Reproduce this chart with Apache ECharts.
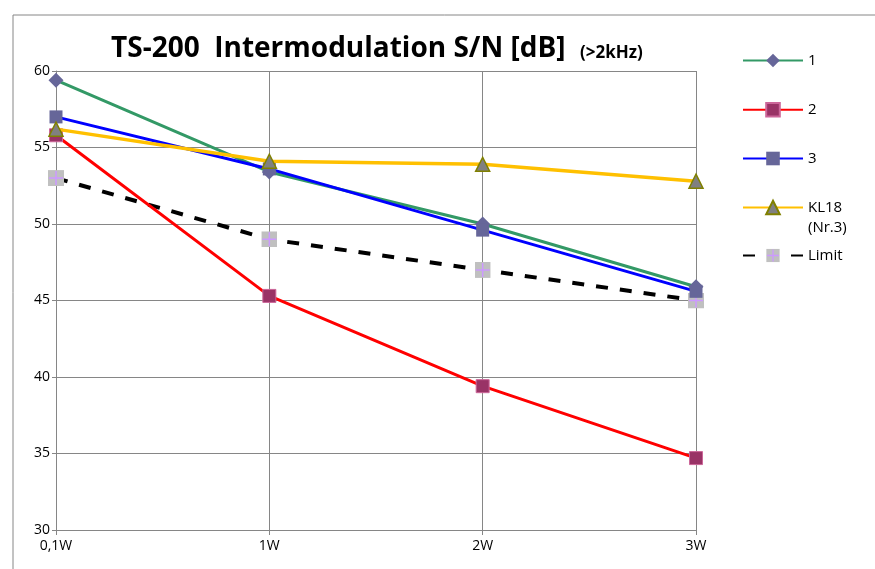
<!DOCTYPE html>
<html><head><meta charset="utf-8">
<script src="https://cdn.jsdelivr.net/npm/echarts@6/dist/echarts.min.js"></script>
<style>html,body{margin:0;padding:0;background:#fff}#c{width:875px;height:569px}</style>
</head><body><div id="c"></div>
<script>
const categories = ['0,1W', '1W', '2W', '3W'];
const s1 = [59.4, 53.4, 50.0, 45.9];
const s2 = [55.8, 45.3, 39.4, 34.7];
const s3 = [57.0, 53.6, 49.6, 45.6];
const kl18 = [56.2, 54.1, 53.9, 52.8];
const limit = [53.0, 49.0, 47.0, 45.0];
const yTicks = [30, 35, 40, 45, 50, 55, 60];

const FONT = '"Open Sans", "Liberation Sans", sans-serif';
const limitSvg = 'image://data:image/svg+xml;utf8,' + encodeURIComponent(
  '<svg xmlns="http://www.w3.org/2000/svg" width="16" height="16"><rect x="0" y="0" width="16" height="16" fill="#c0c0c0"/><path d="M8 1V15M1 8H15" stroke="#cc99ff" stroke-width="1.5"/></svg>');

const chart = echarts.init(document.getElementById('c'));
const names = ['1','2','3','KL18','Limit'];
const legendTops = [53, 102, 151, 180, 248];
chart.setOption({
  animation: false,
  textStyle: {fontFamily: FONT},
  title: {
    text: 'TS-200  Intermodulation S/N [dB]  {s|(>2kHz)}',
    left: 106, top: 30,
    textStyle: {fontFamily: FONT, fontWeight: 'bold', fontSize: 28, color: '#000',
      rich: {s: {fontFamily: FONT, fontWeight: 'bold', fontSize: 17, color: '#000', padding:[8,0,0,0]}}}
  },
  graphic: [{type: 'rect', shape: {x: 13, y: 15, width: 900, height: 600}, style: {fill: 'none', stroke: '#868686', lineWidth: 1}, silent: true}],
  legend: names.map((n, i) => ({
    data: [n], orient: 'vertical', left: 742, top: legendTops[i],
    itemWidth: 60, itemHeight: 17, itemGap: 0,
    formatter: n === 'KL18' ? '{e| }\n{a|KL18}\n{a|(Nr.3)}' : '{a|' + n + '}',
    textStyle: {fontFamily: FONT, fontSize: 15, color: '#000',
      rich: {a: {fontFamily: FONT, fontSize: 15, color: '#000', lineHeight: 20}, e: {fontSize: 15, lineHeight: 20}}},
    padding: 0
  })),
  grid: {left: 56, right: 179, top: 71, bottom: 39, containLabel: false},
  xAxis: {
    type: 'category', data: categories, boundaryGap: false,
    axisLine: {lineStyle: {color: '#868686', width: 1}},
    axisTick: {show: true, length: 5, lineStyle: {color: '#868686'}},
    axisLabel: {fontFamily: FONT, fontSize: 14, color: '#000', margin: 9},
    splitLine: {show: true, lineStyle: {color: '#868686', width: 1}}
  },
  yAxis: {
    type: 'value', min: yTicks[0], max: yTicks[yTicks.length-1], interval: 5,
    axisLine: {show: true, lineStyle: {color: '#868686'}},
    axisTick: {show: true, length: 4, lineStyle: {color: '#868686'}},
    axisLabel: {fontFamily: FONT, fontSize: 14, color: '#000', margin: 6},
    splitLine: {show: true, lineStyle: {color: '#868686', width: 1}}
  },
  series: [
    {name: '1', type: 'line', data: s1, symbol: 'diamond', symbolSize: 15,
     lineStyle: {color: '#339966', width: 3}, itemStyle: {color: '#666699', borderWidth: 0}, z: 3},
    {name: '2', type: 'line', data: s2, symbol: 'rect', symbolSize: 13,
     lineStyle: {color: '#ff0000', width: 3}, itemStyle: {color: '#993366', borderColor: '#cc6699', borderWidth: 1}, z: 3},
    {name: '3', type: 'line', data: s3, symbol: 'rect', symbolSize: 13,
     lineStyle: {color: '#0000ff', width: 3}, itemStyle: {color: '#666699', borderWidth: 0}, z: 3},
    {name: 'KL18', type: 'line', data: kl18, symbol: 'triangle', symbolSize: 14,
     lineStyle: {color: '#ffc000', width: 3.5}, itemStyle: {color: '#808080', borderColor: '#808000', borderWidth: 1.5}, z: 4},
    {name: 'Limit', type: 'line', data: limit, symbol: limitSvg, symbolSize: 16,
     lineStyle: {color: '#000', width: 4, type: [12, 12]}, itemStyle: {color: '#c0c0c0'}, z: 2}
  ]
});
</script></body></html>
